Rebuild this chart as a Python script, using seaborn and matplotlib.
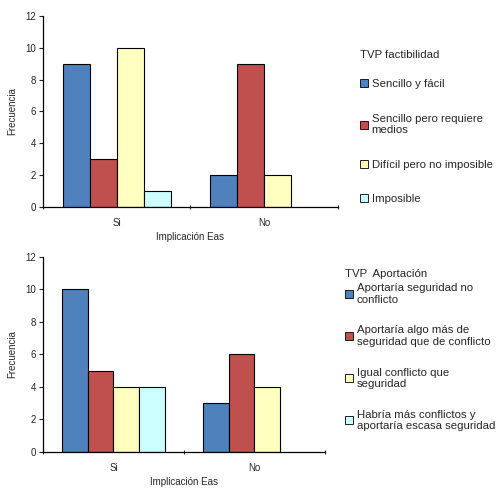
import pandas as pd
import seaborn as sns
import matplotlib.pyplot as plt
from matplotlib.patches import Patch

# Data
categories = ["Si", "No"]

factibilidad_levels = ["Sencillo y fácil", "Sencillo pero requiere\nmedios",
                       "Difícil pero no imposible", "Imposible"]
factibilidad_si = [9, 3, 10, 1]
factibilidad_no = [2, 9, 2, None]

aportacion_levels = ["Aportaría seguridad no\nconflicto",
                     "Aportaría algo más de\nseguridad que de conflicto",
                     "Igual conflicto que\nseguridad",
                     "Habría más conflictos y\naportaría escasa seguridad"]
aportacion_si = [10, 5, 4, 4]
aportacion_no = [3, 6, 4, None]

colors = ["#4F81BD", "#C0504D", "#FFFFC0", "#CCFFFF"]
yticks = [0, 2, 4, 6, 8, 10, 12]

sns.set_style("white")
plt.rcParams['font.family'] = ['Liberation Sans', 'DejaVu Sans']


# Build long-format table for seaborn
def build_frame(levels, si_vals, no_vals):
    rows = []
    for cat, vals in zip(categories, [si_vals, no_vals]):
        for lev, v in zip(levels, vals):
            if v is not None:
                rows.append({"cat": cat, "level": lev, "value": v})
    return pd.DataFrame(rows)


def draw_panel(fig, rect, df, levels, title, leg_pos, labelspacing, title_sep):
    ax = fig.add_axes(rect)
    sns.barplot(data=df, x="cat", y="value", hue="level", hue_order=levels,
                order=categories, palette=colors, width=0.73, saturation=1,
                edgecolor="black", linewidth=0.8, ax=ax, legend=False)
    ax.set_ylim(0, 12)
    ax.set_xlim(-0.5, 1.5)
    ax.set_yticks(yticks)
    ax.tick_params(axis="y", labelsize=7, length=3, direction="out", left=True, pad=2)
    # Excel-style ticks between categories, labels centred
    ax.set_xticks([-0.5, 0.5, 1.5])
    ax.set_xticklabels(["", "", ""])
    ax.set_xticks([0, 1], minor=True)
    ax.set_xticklabels(categories, minor=True)
    ax.tick_params(axis="x", which="major", length=3, direction="inout", bottom=True)
    ax.tick_params(axis="x", which="minor", length=0, labelsize=7, pad=8)
    ax.set_xlabel("Implicación Eas", fontsize=7, labelpad=3)
    ax.set_ylabel("Frecuencia", fontsize=7, labelpad=6)
    for s in ["top", "right"]:
        ax.spines[s].set_visible(False)
    for s in ["left", "bottom"]:
        ax.spines[s].set_color("black")
        ax.spines[s].set_linewidth(0.9)

    handles = [Patch(facecolor=c, edgecolor="black", linewidth=0.6) for c in colors]
    leg = fig.legend(handles, levels, loc="upper left", bbox_to_anchor=leg_pos,
                     frameon=False, fontsize=8.2, title=title, title_fontsize=8.2,
                     handlelength=0.7, handleheight=0.7, handletextpad=0.3,
                     labelspacing=labelspacing, alignment="left")
    leg._legend_box.sep = title_sep
    return ax


fig = plt.figure(figsize=(5, 4.96), dpi=100)

df_top = build_frame(factibilidad_levels, factibilidad_si, factibilidad_no)
draw_panel(fig, [0.086, 0.583, 0.59, 0.385], df_top, factibilidad_levels,
           "TVP factibilidad", (0.7, 0.92), 2.15, 14)

df_bot = build_frame(aportacion_levels, aportacion_si, aportacion_no)
draw_panel(fig, [0.086, 0.089, 0.564, 0.393], df_bot, aportacion_levels,
           "TVP  Aportación", (0.67, 0.478), 1.8, 3)

fig.savefig("out.png", dpi=100)
